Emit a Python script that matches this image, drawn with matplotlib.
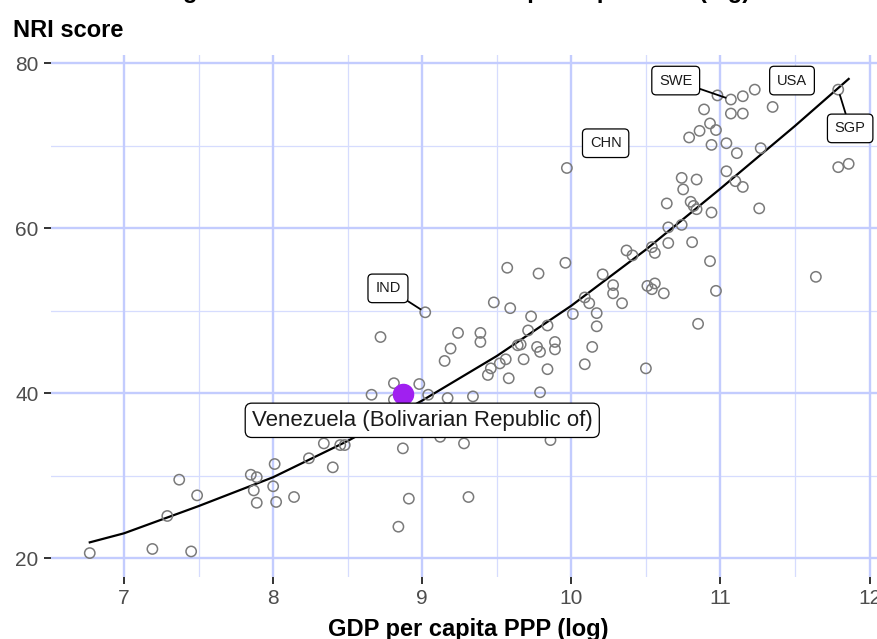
import numpy as np
import matplotlib.pyplot as plt

# log GDP per capita PPP and NRI score
gdp_log = [6.77, 7.19, 7.45, 7.29, 7.37, 7.49, 7.85, 7.89, 7.87, 7.89,
           8.01, 8.00, 8.02, 8.14, 8.24, 8.34, 8.40, 8.45, 8.48, 8.72,
           8.81, 8.66, 8.98, 9.04, 8.87, 8.91, 8.84, 9.02, 9.15, 9.12,
           9.17, 9.19, 9.48, 9.59, 9.73, 9.71, 9.84, 9.24, 9.39, 9.39,
           9.64, 9.66, 9.77, 9.79, 9.89, 9.89, 9.56, 9.52, 9.68, 9.84,
           9.46, 9.44, 9.58, 9.79, 9.34, 9.28, 9.86, 9.31, 9.97, 9.57,
           9.78, 9.96, 10.14, 10.01, 10.09, 10.12, 10.17, 10.17, 10.21, 10.28,
           10.28, 10.34, 10.37, 10.41, 10.54, 10.56, 10.65, 10.65, 10.74, 10.81,
           10.51, 10.54, 10.56, 10.62, 10.64, 10.74, 10.84, 10.75, 10.80, 10.82,
           10.84, 10.85, 10.98, 11.07, 11.15, 11.23, 10.89, 11.07, 11.15, 11.35,
           10.93, 10.86, 10.97, 10.79, 10.94, 11.04, 11.11, 11.27, 11.04, 11.10,
           11.15, 10.94, 11.26, 10.93, 11.64, 10.97, 11.79, 11.79, 11.86, 10.50,
           10.09, 8.81]
nri = [20.6, 21.1, 20.8, 25.1, 29.5, 27.6, 30.1, 29.8, 28.2, 26.7,
       31.4, 28.7, 26.8, 27.4, 32.1, 33.9, 31.0, 33.7, 33.7, 46.8,
       41.2, 39.8, 41.1, 39.8, 33.3, 27.2, 23.8, 49.8, 43.9, 34.7,
       39.4, 45.4, 51.0, 50.3, 49.3, 47.6, 48.2, 47.3, 47.3, 46.2,
       45.8, 45.9, 45.6, 45.0, 46.2, 45.3, 44.1, 43.6, 44.1, 42.9,
       43.0, 42.2, 41.8, 40.1, 39.6, 33.9, 34.3, 27.4, 67.3, 55.2,
       54.5, 55.8, 45.6, 49.6, 51.6, 50.9, 49.7, 48.1, 54.4, 53.1,
       52.1, 50.9, 57.3, 56.7, 57.7, 57.0, 60.1, 58.2, 60.4, 58.3,
       53.0, 52.6, 53.3, 52.1, 63.0, 66.1, 65.9, 64.7, 63.2, 62.7,
       62.3, 48.4, 76.1, 75.6, 76.0, 76.8, 74.4, 73.9, 73.9, 74.7,
       72.7, 71.8, 71.9, 71.0, 70.1, 70.3, 69.1, 69.7, 66.9, 65.7,
       65.0, 61.9, 62.4, 56.0, 54.1, 52.4, 76.8, 67.4, 67.8, 43.0,
       43.5, 39.2]

# smoothed fit line
fit_x = [6.77, 7.0, 7.5, 8.0, 8.5, 9.0, 9.5, 10.0, 10.5, 11.0, 11.5, 11.86]
fit_y = [21.9, 23.0, 26.3, 29.8, 34.2, 39.1, 44.5, 50.6, 57.4, 64.8, 72.4, 78.1]

# highlighted country
hl_name = "Venezuela (Bolivarian Republic of)"
hl_x, hl_y = 8.87, 39.9

# labelled countries: code, point, label position
lab_codes = ["IND", "CHN", "SWE", "USA", "SGP"]
lab_pts = [(9.02, 49.8), (9.97, 67.3), (11.07, 75.6), (11.23, 76.8), (11.79, 76.8)]
lab_pos = [(8.77, 52.7), (10.23, 70.3), (10.70, 77.9), (11.48, 77.9), (11.87, 72.1)]
lab_segment = [True, False, True, False, True]

plt.rcParams['font.family'] = ['Liberation Sans', 'DejaVu Sans']

fig = plt.figure(figsize=(8.77, 6.39), dpi=100)
ax = fig.add_axes([51 / 877, 62 / 639, 826 / 877, 522 / 639])

ax.set_xlim(6.51, 12.05)
ax.set_ylim(17.7, 81.0)

major_c = '#c3ccfe'
minor_c = '#d6dcfe'
for v in [7.5, 8.5, 9.5, 10.5, 11.5]:
    ax.axvline(v, color=minor_c, lw=0.9, zorder=0)
for v in [30, 50, 70]:
    ax.axhline(v, color=minor_c, lw=0.9, zorder=0)
for v in [7, 8, 9, 10, 11, 12]:
    ax.axvline(v, color=major_c, lw=1.7, zorder=0)
for v in [20, 40, 60, 80]:
    ax.axhline(v, color=major_c, lw=1.7, zorder=0)

ax.plot(fit_x, fit_y, color='black', lw=1.6, zorder=2)
ax.scatter(gdp_log, nri, s=55, facecolors='none', edgecolors='#7a7a7a',
           linewidths=1.1, zorder=3)
ax.scatter([hl_x], [hl_y], s=210, color='#A020F0', zorder=4)

box = dict(boxstyle='round,pad=0.5,rounding_size=0.3', fc='white', ec='black', lw=0.9)
for code, pt, pos, seg in zip(lab_codes, lab_pts, lab_pos, lab_segment):
    ax.annotate(code, xy=pt, xytext=pos, ha='center', va='center',
                fontsize=10.5, color='#1a1a1a', bbox=box, zorder=6,
                arrowprops=dict(arrowstyle='-', color='black', lw=1.3,
                                shrinkA=0, shrinkB=4) if seg else None)

ax.text(9.0, 36.7, hl_name, ha='center', va='center', fontsize=16,
        color='#1a1a1a', zorder=6,
        bbox=dict(boxstyle='round,pad=0.3,rounding_size=0.3', fc='white',
                  ec='black', lw=0.9))

ax.set_xticks([7, 8, 9, 10, 11, 12])
ax.set_yticks([20, 40, 60, 80])
ax.tick_params(length=5, width=1.3, color='#222222', labelcolor='#4d4d4d',
               labelsize=15, pad=4)
for s in ax.spines.values():
    s.set_visible(False)

fig.text(468 / 877, 1 - 636 / 639, "GDP per capita PPP (log)", ha='center',
         va='baseline', fontsize=17, fontweight='bold')
fig.text(13 / 877, 1 - 37 / 639, "NRI score", ha='left', va='baseline',
         fontsize=17, fontweight='bold')
fig.text(153 / 877, 1 + 2 / 639, "Regression of NRI score on GDP per capita PPP (log)",
         ha='left', va='baseline', fontsize=17, fontweight='bold')

fig.savefig('out.png', dpi=100)
